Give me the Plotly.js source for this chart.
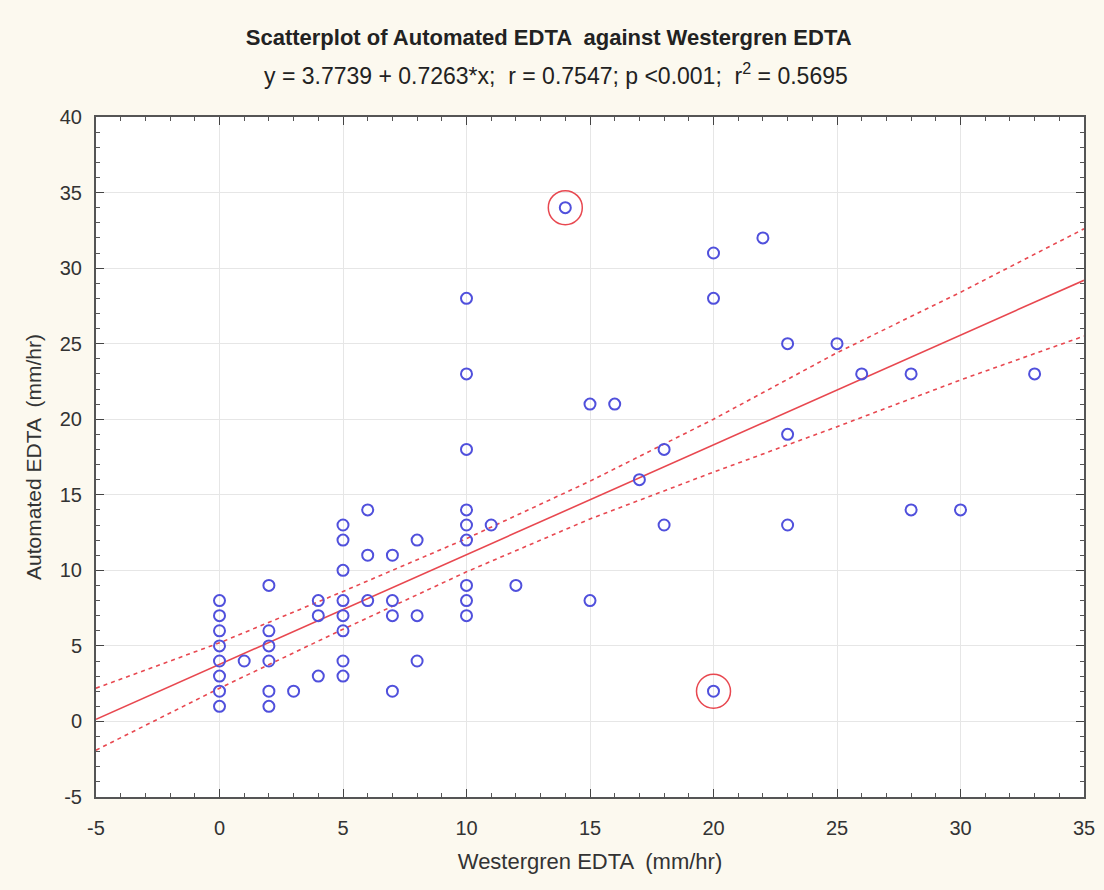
<!DOCTYPE html>
<html>
<head>
<meta charset="utf-8">
<script src="https://cdn.plot.ly/plotly-3.0.1.min.js"></script>
<style>
  html, body { margin: 0; padding: 0; background: #fcf9ef; }
  #chart { width: 1104px; height: 890px; }
</style>
</head>
<body>
<div id="chart"></div>
<script>
// Westergren EDTA (x) vs Automated EDTA (y), mm/hr
const westergren = [
  0, 0, 0, 0, 0, 0, 0, 0,
  1,
  2, 2, 2, 2, 2, 2,
  3,
  4, 4, 4,
  5, 5, 5, 5, 5, 5, 5, 5,
  6, 6, 6,
  7, 7, 7, 7,
  8, 8, 8,
  10, 10, 10, 10, 10, 10, 10, 10, 10,
  11, 12, 14, 15, 15, 16, 17, 18, 18,
  20, 20, 20, 22, 23, 23, 23, 25, 26, 28, 28, 30, 33
];
const automated = [
  1, 2, 3, 4, 5, 6, 7, 8,
  4,
  1, 2, 4, 5, 6, 9,
  2,
  3, 7, 8,
  3, 4, 6, 7, 8, 10, 12, 13,
  8, 11, 14,
  2, 7, 8, 11,
  4, 7, 12,
  7, 8, 9, 12, 13, 14, 18, 23, 28,
  13, 9, 34, 8, 21, 21, 16, 13, 18,
  2, 28, 31, 32, 13, 19, 25, 25, 23, 14, 23, 14, 23
];

// Highlighted observations
const flaggedX = [14, 20];
const flaggedY = [34, 2];

// Reported regression coefficients
const intercept = 3.7739;
const slope = 0.7263;
const xRange = [-5, 35];

// 95% confidence limits of the fitted line
const bandX = [-5, 0, 5, 10, 15, 20, 25, 30, 35];
const bandUpper = [2.2, 5.2, 8.6, 12.1, 15.9, 20.0, 24.4, 28.4, 32.6];
const bandLower = [-1.9, 2.2, 6.1, 9.9, 13.4, 16.5, 19.5, 22.6, 25.5];

// Tick values and labels (plain hyphen for negatives)
const xTicks = [-5, 0, 5, 10, 15, 20, 25, 30, 35];
const xTickText = ['-5', '0', '5', '10', '15', '20', '25', '30', '35'];
const yTicks = [-5, 0, 5, 10, 15, 20, 25, 30, 35, 40];
const yTickText = ['-5', '0', '5', '10', '15', '20', '25', '30', '35', '40'];

const fitY = xRange.map(v => intercept + slope * v);

const red = 'rgb(232,72,80)';
const blue = 'rgb(80,80,220)';

const traces = [
  { x: bandX, y: bandUpper, mode: 'lines', line: { color: red, width: 1.6, dash: '4px,4px' }, hoverinfo: 'skip' },
  { x: bandX, y: bandLower, mode: 'lines', line: { color: red, width: 1.6, dash: '4px,4px' }, hoverinfo: 'skip' },
  { x: xRange, y: fitY, mode: 'lines', line: { color: red, width: 1.6 }, hoverinfo: 'skip' },
  { x: westergren, y: automated, mode: 'markers',
    marker: { symbol: 'circle-open', size: 11, color: blue, line: { width: 2, color: blue } } },
  { x: flaggedX, y: flaggedY, mode: 'markers',
    marker: { symbol: 'circle-open', size: 34, color: red, line: { width: 1.5, color: red } } }
];

const tickFont = { family: 'Liberation Sans', size: 20, color: '#333' };

const axisCommon = {
  showline: true, linecolor: '#555', linewidth: 2, mirror: 'allticks',
  ticks: 'inside', ticklen: 8, tickwidth: 1, tickcolor: '#444',
  minor: { ticks: 'inside', ticklen: 4, dtick: 1, tickcolor: '#555', showgrid: false },
  showgrid: true, gridcolor: '#e6e6e6', gridwidth: 1,
  zeroline: false,
  tickfont: tickFont,
  tickmode: 'array'
};

const layout = {
  width: 1104, height: 890,
  paper_bgcolor: '#fcf9ef',
  plot_bgcolor: '#ffffff',
  showlegend: false,
  margin: { l: 96, r: 20, t: 117, b: 93 },
  title: {
    text: '<b>Scatterplot of Automated EDTA  against Westergren EDTA</b>',
    font: { family: 'Liberation Sans', size: 22, color: '#222' },
    x: 0.497, xanchor: 'center', y: 0.958, yanchor: 'middle'
  },
  annotations: [{
    text: 'y = 3.7739 + 0.7263*x;  r = 0.7547; p <0.001;  r<sup>2</sup> = 0.5695',
    xref: 'paper', yref: 'paper', x: 0.4656, y: 1.0,
    yshift: 43, xanchor: 'center', yanchor: 'middle', showarrow: false,
    font: { family: 'Liberation Sans', size: 23, color: '#222' }
  }],
  xaxis: Object.assign({}, axisCommon, {
    range: xRange, tickvals: xTicks, ticktext: xTickText, ticklabelstandoff: 12,
    title: { text: 'Westergren EDTA  (mm/hr)', font: { family: 'Liberation Sans', size: 22, color: '#333' }, standoff: 16 }
  }),
  yaxis: Object.assign({}, axisCommon, {
    range: [-5, 40], tickvals: yTicks, ticktext: yTickText, ticklabelstandoff: 8,
    title: { text: 'Automated EDTA  (mm/hr)', font: { family: 'Liberation Sans', size: 21, color: '#333' }, standoff: 12 }
  })
};

Plotly.newPlot('chart', traces, layout, { displayModeBar: false, staticPlot: true });
</script>
</body>
</html>
